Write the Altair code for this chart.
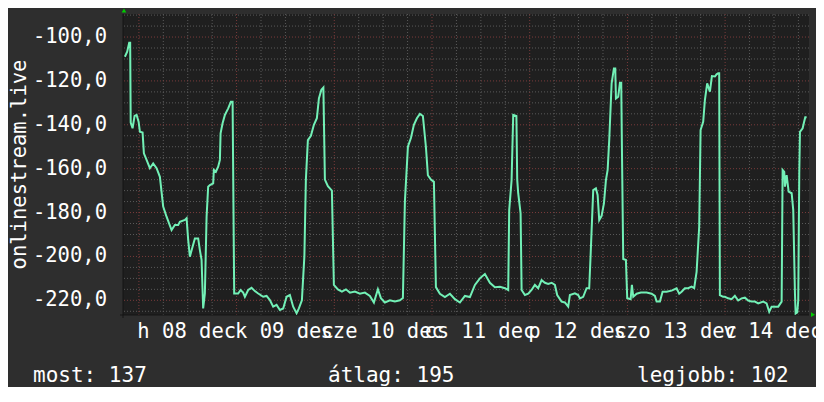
import altair as alt
import pandas as pd

# ---- data (hours since 2014-12-08 00:00, value) ----
HOURS = [-3.44, -2.87, -2.38, -2.14, -2.01, -1.55, -1.06, -0.56, -0.07, 0.25, 0.91, 1.23, 1.89, 2.70, 3.51,
         4.35, 5.16, 5.97, 6.80, 8.03, 8.84, 9.65, 10.07, 11.30, 11.72, 12.11, 12.53, 13.19, 13.76, 14.57,
         14.98, 15.40, 15.79, 16.21, 16.63, 17.02, 17.44, 18.25, 18.42, 18.91, 19.48, 19.90, 20.07, 20.56,
         21.13, 21.94, 22.60, 23.02, 23.41, 24.39, 24.98, 25.62, 26.04, 26.85, 27.68, 28.49, 29.31, 30.53,
         31.37, 32.18, 32.99, 33.82, 34.64, 35.45, 36.28, 37.09, 37.90, 38.74, 39.30, 40.04, 40.65, 41.02,
         41.51, 42.25, 42.99, 43.72, 44.22, 44.83, 45.32, 45.69, 46.43, 47.41, 47.90, 48.88, 49.87, 50.85,
         51.83, 53.06, 54.29, 55.52, 56.74, 57.73, 58.71, 59.45, 60.43, 61.66, 62.89, 64.11, 64.85, 65.34,
         66.08, 66.82, 67.55, 68.29, 69.03, 69.76, 70.50, 70.99, 71.73, 72.47, 72.96, 73.94, 75.17, 76.40,
         77.62, 78.85, 80.08, 81.31, 82.54, 83.76, 84.99, 86.22, 87.45, 88.68, 89.90, 90.72, 90.96, 91.55,
         91.95, 92.73, 92.93, 93.17, 93.76, 94.01, 94.82, 95.63, 96.45, 97.27, 98.08, 98.92, 99.73, 100.54,
         101.38, 102.19, 102.75, 103.83, 104.64, 105.45, 105.87, 107.10, 107.91, 108.33, 109.14, 109.97,
         110.61, 110.96, 111.60, 112.26, 112.68, 113.07, 113.66, 114.23, 114.72, 115.14, 115.53, 116.12,
         116.68, 117.01, 117.18, 117.74, 118.16, 118.48, 118.65, 118.97, 119.63, 119.95, 120.79, 121.10,
         121.43, 122.26, 123.31, 124.71, 125.94, 126.75, 127.17, 127.98, 128.64, 129.62, 130.85, 132.08,
         132.72, 133.31, 134.12, 134.93, 135.76, 136.40, 136.99, 137.63, 137.97, 138.61, 139.03, 139.59,
         140.26, 140.75, 141.49, 141.90, 142.30, 142.54, 142.71, 143.52, 143.94, 144.75, 145.58, 146.39,
         147.20, 148.04, 148.85, 149.66, 150.50, 151.31, 152.12, 153.35, 154.19, 154.83, 155.42, 156.23,
         157.04, 157.88, 158.12, 158.52, 158.69, 159.11, 159.60, 160.34, 160.73, 161.15, 161.32, 161.71,
         161.96, 162.21, 162.38, 163.04, 163.36, 163.68, 164.02]
VALUES = [-109.0, -106.7, -102.6, -102.6, -139.0, -141.6, -136.0, -135.5, -138.6, -143.2, -143.5, -153.0,
          -156.0, -159.8, -157.6, -159.8, -163.7, -177.3, -181.9, -188.0, -185.7, -185.7, -184.2, -183.4,
          -182.6, -192.5, -200.1, -195.6, -191.8, -191.8, -197.1, -201.6, -223.7, -216.9, -181.9, -168.2,
          -167.5, -166.7, -160.6, -161.4, -159.1, -156.0, -143.9, -139.3, -135.5, -132.5, -129.5, -129.5,
          -216.9, -216.9, -215.3, -216.5, -218.4, -215.3, -214.3, -215.8, -216.9, -218.4, -218.0, -219.9,
          -222.9, -222.1, -224.4, -223.7, -218.4, -217.6, -222.9, -225.9, -223.7, -220.0, -200.0, -165.0,
          -147.0, -145.0, -140.0, -137.0, -128.0, -124.0, -123.0, -165.0, -168.0, -170.0, -213.0, -215.0,
          -216.0, -215.0, -216.5, -216.0, -217.0, -216.5, -218.0, -221.0, -215.0, -219.0, -221.0, -220.0,
          -220.5, -220.0, -219.0, -175.0, -150.0, -146.0, -140.0, -137.0, -135.0, -136.0, -150.0, -163.0,
          -165.0, -166.0, -214.0, -217.0, -218.5, -217.0, -219.5, -221.0, -218.0, -218.5, -213.0, -210.0,
          -208.0, -212.0, -214.0, -213.8, -214.5, -215.3, -178.9, -165.2, -135.5, -136.0, -165.0, -171.2,
          -180.4, -215.3, -217.6, -217.0, -215.3, -213.0, -214.5, -210.8, -212.0, -212.5, -212.0, -213.0,
          -217.6, -220.6, -221.0, -222.9, -217.6, -216.8, -217.6, -219.1, -218.4, -214.5, -214.5, -199.4,
          -169.8, -169.0, -172.0, -183.4, -181.5, -175.8, -165.2, -160.6, -147.0, -121.1, -114.3, -114.3,
          -128.0, -127.2, -120.8, -120.8, -150.7, -201.2, -201.6, -219.1, -219.5, -213.0, -218.4, -217.0,
          -216.5, -216.5, -217.0, -218.0, -220.6, -220.6, -216.1, -216.1, -215.6, -214.5, -217.0, -216.1,
          -214.5, -214.5, -213.8, -214.5, -207.0, -186.5, -142.4, -138.6, -128.7, -121.1, -124.9, -117.8,
          -118.0, -117.0, -116.5, -116.5, -217.6, -218.4, -218.4, -219.1, -219.5, -218.0, -220.1, -219.1,
          -218.8, -220.1, -220.6, -220.6, -221.4, -220.6, -221.4, -225.2, -222.9, -222.9, -222.9, -220.6,
          -160.6, -161.5, -168.2, -162.9, -170.5, -171.2, -178.9, -216.9, -226.0, -225.5, -219.9, -162.1,
          -143.2, -141.6, -139.0, -136.6, -136.6]

DAY_LABELS = ["h 08 dec", "k 09 dec", "sze 10 dec", "cs 11 dec", "p 12 dec", "szo 13 dec", "v 14 dec"]
DAY_NOON_HOURS = [12, 36, 60, 84, 108, 132, 156]
Y_TICKS = [-220, -200, -180, -160, -140, -120, -100]
Y_TICK_LABELS = ["-220,0", "-200,0", "-180,0", "-160,0", "-140,0", "-120,0", "-100,0"]
STAT_LABELS = ["most", "átlag", "legjobb"]
STAT_VALUES = [137, 195, 102]
SERIES_NAME = "onlinestream.live"

X_DOMAIN = [-3.9, 164.6]
Y_DOMAIN = [-226.7, -89.5]

FONT = "DejaVu Sans Mono"
BG = "#2e2e2e"
PLOT_BG = "#1f1f1f"
LINE_COLOR = "#72f0b6"
MINOR_GRID = "#5a5a5a"
MAJOR_GRID = "#7a3b3b"
WHITE = "#ffffff"

df = pd.DataFrame({"h": HOURS, "v": VALUES})

xs = alt.Scale(domain=X_DOMAIN, nice=False, zero=False)
ys = alt.Scale(domain=Y_DOMAIN, nice=False, zero=False)

minor_h = pd.DataFrame({"v": [v for v in range(-225, -89, 5) if v % 20 != 0]})
major_h = pd.DataFrame({"v": Y_TICKS})
minor_v = pd.DataFrame({"h": [h for h in range(0, 165, 6) if h % 24 != 0]})
major_v = pd.DataFrame({"h": list(range(0, 165, 24))})


def hrule(data, color):
    return alt.Chart(data).mark_rule(color=color, strokeWidth=1, strokeDash=[1, 2]).encode(
        y=alt.Y("v:Q", scale=ys, axis=None))


def vrule(data, color):
    return alt.Chart(data).mark_rule(color=color, strokeWidth=1, strokeDash=[1, 2]).encode(
        x=alt.X("h:Q", scale=xs, axis=None))


line = alt.Chart(df).mark_line(color=LINE_COLOR, strokeWidth=2, clip=True).encode(
    x=alt.X("h:Q", scale=xs, axis=None),
    y=alt.Y("v:Q", scale=ys, axis=None),
)

# axis domain lines (dark)
dom_left = alt.Chart(pd.DataFrame({"k": [0]})).mark_rule(color="#151515", strokeWidth=1).encode(
    x=alt.value(0), y=alt.value(0), y2=alt.value(304))
dom_bottom = alt.Chart(pd.DataFrame({"k": [0]})).mark_rule(color="#151515", strokeWidth=1).encode(
    x=alt.value(-3), x2=alt.value(686), y=alt.value(301))

# y tick labels
ylab = alt.Chart(pd.DataFrame({"v": Y_TICKS, "t": Y_TICK_LABELS})).mark_text(
    font=FONT, fontSize=20.5, color=WHITE, align="right", baseline="middle").encode(
    y=alt.Y("v:Q", scale=ys, axis=None), x=alt.value(-16), text="t:N")

# x day labels
xlab = alt.Chart(pd.DataFrame({"h": DAY_NOON_HOURS, "t": DAY_LABELS})).mark_text(
    font=FONT, fontSize=20.5, color=WHITE, align="center", baseline="alphabetic", dx=-1).encode(
    x=alt.X("h:Q", scale=xs, axis=None), y=alt.value(324.3), text="t:N")

ytitle = alt.Chart(pd.DataFrame({"k": [0]})).mark_text(
    font=FONT, fontSize=20.5, color=WHITE, align="center", baseline="alphabetic", angle=270).encode(
    x=alt.value(-97.5), y=alt.value(150.5), text=alt.value(SERIES_NAME))

arrow_up = alt.Chart(pd.DataFrame({"k": [0]})).mark_point(
    shape="triangle-up", filled=True, color="#00cc00", size=22, opacity=1).encode(
    x=alt.value(1), y=alt.value(-3.5))
arrow_right = alt.Chart(pd.DataFrame({"k": [0]})).mark_point(
    shape="triangle-right", filled=True, color="#00cc00", size=22, opacity=1).encode(
    x=alt.value(690), y=alt.value(300.7))

stat_x = [-90, 205, 514]
stats = []
for lab, val, sx in zip(STAT_LABELS, STAT_VALUES, stat_x):
    stats.append(alt.Chart(pd.DataFrame({"k": [0]})).mark_text(
        font=FONT, fontSize=21, color=WHITE, align="left", baseline="alphabetic").encode(
        x=alt.value(sx), y=alt.value(368), text=alt.value(f"{lab}: {val}")))

chart = alt.layer(
    hrule(minor_h, MINOR_GRID), vrule(minor_v, MINOR_GRID),
    hrule(major_h, MAJOR_GRID), vrule(major_v, MAJOR_GRID),
    dom_left, dom_bottom,
    line, ylab, xlab, ytitle, arrow_up, arrow_right, *stats
).properties(
    width=686, height=301,
    autosize=alt.AutoSizeParams(type="none"),
    padding={"left": 115, "top": 6, "right": 7, "bottom": 72},
    background=BG,
).configure_view(fill=PLOT_BG, strokeWidth=0)

chart.save("out.html", embed_options={"renderer": "svg", "actions": False})
